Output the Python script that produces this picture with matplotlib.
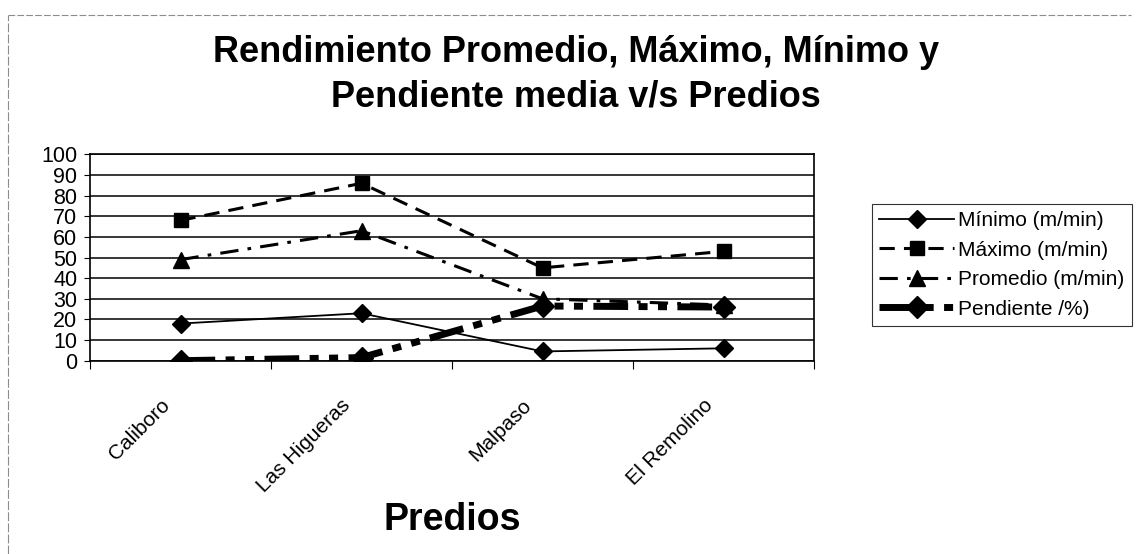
import matplotlib as mpl
import matplotlib.pyplot as plt
import matplotlib.transforms as mtransforms
import numpy as np
from matplotlib.lines import Line2D

mpl.rcParams.update({
    "font.family": ["Liberation Sans", "DejaVu Sans"],
})

# -- data --------------------------------------------------------------------
predios   = ["Caliboro", "Las Higueras", "Malpaso", "El Remolino"]
minimo    = [18, 23, 4.5, 6]
maximo    = [68, 86, 45, 53]
promedio  = [49, 63, 30, 27]
pendiente = [0, 1.5, 26.5, 26]
yticks    = list(range(0, 101, 10))

x = np.arange(len(predios))

fig = plt.figure(figsize=(11.37, 5.54), dpi=100)
ax = fig.add_axes([90 / 1137, 1 - 360.7 / 554, 724 / 1137, 206.3 / 554])

ax.plot(x, minimo, "-", color="black", lw=1.3, marker="D", ms=9,
        label="Mínimo (m/min)", zorder=4)
ax.plot(x, maximo, color="black", lw=2.2, dashes=(5, 3), marker="s", ms=10,
        label="Máximo (m/min)", zorder=4)
ax.plot(x, promedio, color="black", lw=2.2, dashes=(6, 3, 1.2, 3),
        marker="^", ms=11, label="Promedio (m/min)", zorder=4)
ax.plot(x, pendiente, color="black", lw=5, dashes=(5, 1.5, 1.3, 1.5, 1.3, 1.5),
        marker="D", ms=11, label="Pendiente /%)", zorder=5)

ax.set_xlim(-0.5, len(predios) - 0.5)
ax.set_ylim(0, 100)
ax.set_yticks(yticks)
ax.yaxis.grid(True, color="black", lw=1.1)
ax.set_axisbelow(True)
ax.tick_params(axis="y", direction="out", length=4, width=0.8, labelsize=15.5,
               pad=5)

# ticks between categories; the names are placed by hand below
ax.set_xticks(np.arange(-0.5, len(predios), 1.0))
ax.set_xticklabels([])
ax.tick_params(axis="x", direction="out", length=6, width=0.8)

lab_tr = (mtransforms.blended_transform_factory(ax.transData, ax.transAxes)
          + mtransforms.ScaledTranslation(-0.14, -0.42, fig.dpi_scale_trans))
for xi, name in zip(x, predios):
    ax.text(xi, 0, name, transform=lab_tr, rotation=45, ha="right",
            va="center", rotation_mode="anchor", fontsize=15)

for s in ax.spines.values():
    s.set_linewidth(1.2)

fig.text(0.5066, 1 - 52 / 554, "Rendimiento Promedio, Máximo, Mínimo y",
         ha="center", va="center", fontsize=26, fontweight="bold")
fig.text(0.5066, 1 - 97 / 554, "Pendiente media v/s Predios",
         ha="center", va="center", fontsize=26, fontweight="bold")
fig.text(452 / 1137, 1 - 520 / 554, "Predios", ha="center", va="center",
         fontsize=27, fontweight="bold")

leg = ax.legend(loc="upper left", bbox_to_anchor=(782 / 724, (360.7 - 204) / 206.3),
                fontsize=15, frameon=True, fancybox=False, edgecolor="black",
                handlelength=3.6, handletextpad=0.2, labelspacing=0.5,
                borderpad=0.35, borderaxespad=0)
leg.get_frame().set_linewidth(0.8)

# page frame, top and left
fig.add_artist(Line2D([0.007, 0.995], [0.973, 0.973], color="0.55", lw=0.8,
                      dashes=(6, 2)))
fig.add_artist(Line2D([0.007, 0.007], [0.0, 0.973], color="0.55", lw=0.8,
                      dashes=(8, 2)))

fig.savefig("out.png", dpi=100)
